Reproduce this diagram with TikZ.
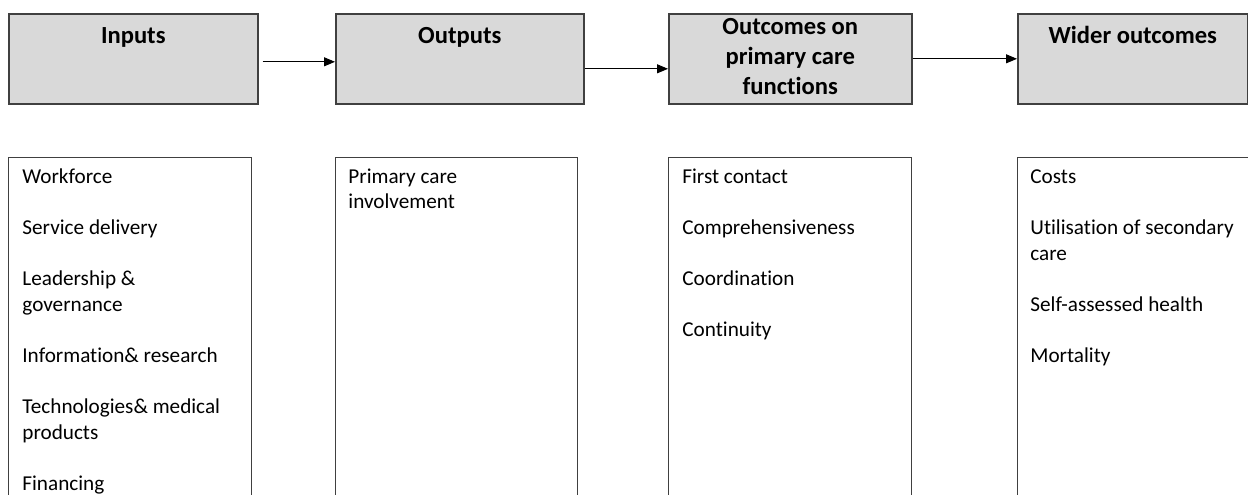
\documentclass[tikz,border=0pt]{standalone}
\usepackage{fontspec}
\setmainfont{Carlito}[Ligatures=NoCommon]
\usepackage{xcolor}
\usetikzlibrary{arrows.meta,positioning}
\definecolor{boxgray}{HTML}{D9D9D9}
\definecolor{edgegray}{HTML}{404040}

\begin{document}
\begin{tikzpicture}[
  x=0.5pt, y=-0.5pt,
  hd/.style={draw=edgegray, fill=boxgray, line width=0.8pt, anchor=north west, inner sep=0pt, minimum height=45pt},
  ttl/.style={anchor=north, inner sep=0pt, align=center, font=\fontsize{12.3}{15}\selectfont\bfseries},
  lst/.style={draw=edgegray, line width=0.7pt, anchor=north west, inner sep=0pt, minimum height=180pt},
  items/.style={anchor=north west, inner sep=0pt, align=left, font=\fontsize{10.6}{12.8}\selectfont},
  arr/.style={-{Triangle[length=5.5pt,width=4.5pt]}, line width=0.5pt}
]
\useasboundingbox (0,0) rectangle (1248,494);
% header row
\node[hd, minimum width=124.5pt] (inp) at (8,13) {};
\node[hd, minimum width=124pt] (outp) at (335,13) {};
\node[hd, minimum width=121.5pt] (func) at (668,13) {};
\node[hd, minimum width=115pt] (wider) at (1017,13) {};
\node[ttl] (inpT) at (inp.north |- 0,22) {\strut Inputs};
\node[ttl] (outpT) at (outp.north |- 0,22) {\strut Outputs};
\node[ttl] (funcT) at (func.north |- 0,13) {\strut Outcomes on\\primary care\\functions};
\node[ttl] (widerT) at (wider.north |- 0,22) {\strut Wider outcomes};
% list boxes
\node[lst, minimum width=121.5pt] (inpL) at (8,157) {};
\node[lst, minimum width=121pt] (outpL) at (335,157) {};
\node[lst, minimum width=121.5pt] (funcL) at (668,157) {};
\node[lst, minimum width=120pt] (widerL) at (1017,157) {};
\node[items] (inpI) at ([shift={(14,8)}]inpL.north west)
  {\strut Workforce\\[12.8pt]Service delivery\\[12.8pt]Leadership \&\\governance\\[12.8pt]Information\& research\\[12.8pt]Technologies\& medical\\products\\[12.8pt]Financing};
\node[items] (outpI) at ([shift={(13,8)}]outpL.north west)
  {\strut Primary care\\involvement};
\node[items] (funcI) at ([shift={(14,8)}]funcL.north west)
  {\strut First contact\\[12.8pt]Comprehensiveness\\[12.8pt]Coordination\\[12.8pt]Continuity};
\node[items] (widerI) at ([shift={(13,8)}]widerL.north west)
  {\strut Costs\\[12.8pt]Utilisation of secondary\\care\\[12.8pt]Self-assessed health\\[12.8pt]Mortality};
% arrows
\draw[arr, shorten <=2pt] ([yshift=-1.5pt]inp.east) -- ([yshift=-1.5pt]outp.west);
\draw[arr] ([yshift=-5pt]outp.east) -- ([yshift=-5pt]func.west);
\draw[arr] (func.east) -- (wider.west);
\end{tikzpicture}
\end{document}
